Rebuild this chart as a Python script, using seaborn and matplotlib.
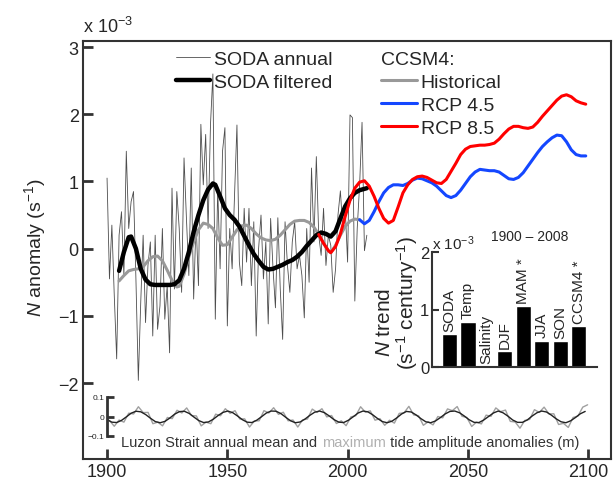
import numpy as np
import pandas as pd
import matplotlib
matplotlib.use('Agg')
import matplotlib.pyplot as plt
import seaborn as sns

# ---- SODA (units of 1e-3 s^-1) ----
soda_years = list(range(1900, 2009))
soda_annual = [
    1.05, -0.45, 0.35, -0.70, -1.64, 0.20, 0.55, -0.40, 1.45, 0.30,
    0.70, 0.85, -0.45, -1.96, -0.80, 0.20, -1.10, -0.25, 0.10, -1.30,
    0.20, -1.20, -0.85, 0.30, -1.05, -0.55, -1.55, 0.90, -0.60, 0.85,
    0.30, -0.65, 1.35, 0.45, -0.40, 1.20, -0.75, 0.40, -0.55, 1.85,
    0.95, 1.70, 0.30, 1.85, 2.60, -1.05, 0.90, -0.30, 1.45, 1.80,
    -1.15, 0.30, -0.30, 0.80, 1.84, -0.20, -0.55, 0.60, -0.20, 0.60,
    -0.55, 0.40, -1.30, 0.00, 0.50, -0.45, 0.10, -1.12, 0.45, -0.30,
    -0.88, 0.46, -0.60, -1.35, 0.40, -0.25, -0.65, 0.10, 0.40, -0.30,
    -0.10, -0.40, -1.03, 0.30, -0.50, 1.20, 0.10, 1.37, 0.20, -0.10,
    0.60, -0.25, 0.20, 0.05, -0.65, -0.30, 0.50, 0.86, 0.30, 0.60,
    -0.20, 1.99, 1.95, -0.78, 0.30, 0.95, 1.88, -0.03, 0.20,
]

filt_years = [1905, 1907, 1909, 1910, 1912, 1914, 1916, 1918, 1920, 1922,
              1924, 1926, 1928, 1930, 1932, 1934, 1936, 1938, 1940, 1942,
              1944, 1945, 1947, 1949, 1951, 1953, 1955, 1957, 1959, 1961,
              1963, 1965, 1967, 1969, 1971, 1973, 1975, 1977, 1979, 1981,
              1983, 1985, 1987, 1989, 1991, 1993, 1995, 1997, 1999, 2001,
              2003, 2005, 2008]
filt_vals = [-0.33, -0.05, 0.17, 0.18, 0.00, -0.30, -0.46, -0.53, -0.54, -0.54,
             -0.54, -0.54, -0.53, -0.47, -0.30, -0.05, 0.25, 0.50, 0.72, 0.88,
             0.97, 0.95, 0.78, 0.60, 0.50, 0.43, 0.33, 0.19, 0.05, -0.08,
             -0.18, -0.27, -0.31, -0.30, -0.27, -0.24, -0.20, -0.17, -0.12, -0.05,
             0.04, 0.12, 0.20, 0.24, 0.22, 0.18, 0.26, 0.45, 0.63, 0.75,
             0.83, 0.87, 0.90]

# ---- CCSM4 ----
hist_years = [1905, 1907, 1909, 1911, 1913, 1915, 1917, 1919, 1921, 1923,
              1925, 1927, 1929, 1930, 1932, 1934, 1936, 1938, 1940, 1942,
              1944, 1946, 1948, 1950, 1952, 1954, 1956, 1958, 1960, 1962,
              1964, 1966, 1968, 1970, 1972, 1974, 1976, 1978, 1980, 1982,
              1984, 1986, 1988, 1990, 1992, 1993, 1995, 1997, 1999, 2001,
              2003, 2005]
hist_vals = [-0.48, -0.40, -0.33, -0.31, -0.30, -0.27, -0.18, -0.12, -0.11, -0.18,
             -0.32, -0.47, -0.57, -0.56, -0.38, -0.12, 0.10, 0.28, 0.38, 0.36,
             0.30, 0.16, 0.05, 0.06, 0.17, 0.28, 0.34, 0.35, 0.30, 0.22,
             0.16, 0.13, 0.12, 0.14, 0.20, 0.28, 0.36, 0.41, 0.42, 0.42,
             0.39, 0.32, 0.21, 0.08, -0.03, -0.06, 0.05, 0.20, 0.33, 0.41,
             0.44, 0.43]

rcp45_years = [2005, 2007, 2009, 2011, 2013, 2015, 2017, 2019, 2021, 2023,
               2025, 2027, 2029, 2031, 2033, 2035, 2037, 2039, 2041, 2043,
               2045, 2047, 2049, 2051, 2053, 2055, 2057, 2059, 2061, 2063,
               2065, 2067, 2069, 2071, 2073, 2075, 2077, 2079, 2081, 2083,
               2085, 2087, 2089, 2091, 2093, 2095, 2097, 2099]
rcp45_vals = [0.43, 0.37, 0.42, 0.55, 0.70, 0.83, 0.91, 0.95, 0.95, 0.94,
              0.97, 1.02, 1.05, 1.04, 1.01, 0.98, 0.93, 0.86, 0.79, 0.76,
              0.79, 0.87, 0.97, 1.07, 1.14, 1.18, 1.17, 1.16, 1.16, 1.14,
              1.09, 1.04, 1.03, 1.06, 1.13, 1.23, 1.33, 1.43, 1.52, 1.59,
              1.65, 1.69, 1.68, 1.59, 1.47, 1.40, 1.38, 1.38]

rcp85_years = [1988, 1990, 1992, 1993, 1995, 1997, 1999, 2001, 2003, 2005,
               2007, 2009, 2011, 2013, 2015, 2017, 2019, 2021, 2023, 2025,
               2027, 2029, 2031, 2033, 2035, 2037, 2039, 2041, 2043, 2045,
               2047, 2049, 2051, 2053, 2055, 2057, 2059, 2061, 2063, 2065,
               2067, 2069, 2071, 2073, 2075, 2077, 2079, 2081, 2083, 2085,
               2087, 2089, 2091, 2093, 2095, 2097, 2099]
rcp85_vals = [0.21, 0.08, -0.03, -0.06, 0.03, 0.22, 0.48, 0.72, 0.90, 0.99,
              1.01, 0.93, 0.78, 0.60, 0.45, 0.38, 0.42, 0.62, 0.83, 0.95,
              1.03, 1.07, 1.08, 1.06, 1.02, 0.98, 0.97, 1.03, 1.15, 1.27,
              1.40, 1.48, 1.52, 1.53, 1.54, 1.54, 1.55, 1.57, 1.63, 1.71,
              1.78, 1.82, 1.82, 1.80, 1.79, 1.81, 1.88, 1.97, 2.05, 2.13,
              2.21, 2.27, 2.29, 2.26, 2.20, 2.17, 2.15]

# ---- Luzon Strait tide amplitude anomalies (m) ----
tide_mean_years = list(range(1900, 2100, 2))
tide_mean = [
    -0.016, -0.029, -0.031, -0.020, -0.002, 0.017, 0.027, 0.024, 0.010, -0.009,
    -0.026, -0.032, -0.025, -0.008, 0.012, 0.025, 0.027, 0.016, -0.003, -0.021,
    -0.031, -0.028, -0.014, 0.005, 0.021, 0.028, 0.020, 0.003, -0.016, -0.029,
    -0.031, -0.019, -0.001, 0.018, 0.028, 0.027, 0.015, -0.004, -0.022, -0.032,
    -0.028, -0.013, 0.006, 0.022, 0.028, 0.020, 0.003, -0.016, -0.029, -0.031,
    -0.019, -0.001, 0.018, 0.028, 0.024, 0.009, -0.010, -0.026, -0.032, -0.024,
    -0.007, 0.013, 0.026, 0.023, 0.008, -0.011, -0.027, -0.032, -0.023, -0.006,
    0.013, 0.026, 0.028, 0.019, 0.002, -0.017, -0.030, -0.031, -0.018, 0.000,
    0.018, 0.028, 0.019, 0.002, -0.018, -0.030, -0.030, -0.018, 0.002, 0.019,
    0.028, 0.023, 0.007, -0.012, -0.027, -0.032, -0.022, -0.005, 0.014, 0.026,
]
tide_max_years = list(range(1901, 2101, 2))
tide_max = [
    -0.020, -0.050, -0.018, -0.029, 0.017, 0.013, 0.050, 0.020, 0.021, -0.037,
    -0.029, -0.048, -0.005, -0.011, 0.032, 0.018, 0.044, 0.005, 0.003, -0.048,
    -0.029, -0.037, 0.012, 0.004, 0.040, 0.016, 0.030, -0.013, -0.012, -0.054,
    -0.023, -0.022, 0.030, 0.018, 0.045, 0.011, 0.022, -0.022, -0.018, -0.054,
    -0.017, -0.013, 0.038, 0.021, 0.040, -0.002, 0.005, -0.036, -0.022, -0.047,
    -0.002, 0.004, 0.050, 0.022, 0.029, -0.019, -0.011, -0.045, -0.019, -0.034,
    0.016, 0.019, 0.052, 0.008, 0.004, -0.045, -0.027, -0.043, 0.000, -0.007,
    0.039, 0.030, 0.051, 0.001, -0.005, -0.051, -0.029, -0.038, 0.007, 0.001,
    0.044, 0.025, 0.033, -0.025, -0.028, -0.060, -0.020, -0.015, 0.035, 0.021,
    0.048, 0.013, 0.014, -0.041, -0.035, -0.056, -0.005, 0.002, 0.048, 0.060,
]

# ---- inset: N trend 1900-2008 (units of 1e-3 s^-1 century^-1) ----
trend_labels = ['SODA', 'Temp', 'Salinity', 'DJF', 'MAM *', 'JJA', 'SON', 'CCSM4 *']
trend_vals = [0.57, 0.79, 0.015, 0.27, 1.06, 0.46, 0.45, 0.71]

sns.set_style('ticks')
plt.rcParams['font.family'] = ['Liberation Sans', 'DejaVu Sans']
plt.rcParams['mathtext.fontset'] = 'custom'
plt.rcParams['mathtext.rm'] = 'Liberation Sans'
plt.rcParams['mathtext.it'] = 'Liberation Sans:italic'
spine_col = '#333333'

W, H = 613, 489
fig = plt.figure(figsize=(W / 100, H / 100), dpi=100)

def fig_rect(x0, y0, x1, y1):
    # pixel box (top-left origin) -> figure fraction
    return [x0 / W, (H - y1) / H, (x1 - x0) / W, (y1 - y0) / H]

ax = fig.add_axes(fig_rect(83, 42, 611, 460))

sns.lineplot(x=soda_years, y=soda_annual, ax=ax, color='#4d4d4d', lw=0.6)
l_annual = ax.lines[-1]
sns.lineplot(x=hist_years, y=hist_vals, ax=ax, color='#999999', lw=2.2)
l_hist = ax.lines[-1]
sns.lineplot(x=filt_years, y=filt_vals, ax=ax, color='black', lw=3.2)
l_filt = ax.lines[-1]
sns.lineplot(x=rcp45_years, y=rcp45_vals, ax=ax, color='#1447ff', lw=2.2)
l_45 = ax.lines[-1]
sns.lineplot(x=rcp85_years, y=rcp85_vals, ax=ax, color='#ff0000', lw=2.2)
l_85 = ax.lines[-1]

ax.set_xlim(1890, 2109.5)
ax.set_ylim(-3.13, 3.09)
ax.set_xticks([1900, 1950, 2000, 2050, 2100])
ax.set_yticks([-2, -1, 0, 1, 2, 3])
ax.tick_params(direction='in', length=7, width=2, labelsize=13, pad=3,
               color=spine_col, top=False, right=False)
for s in ax.spines.values():
    s.set_color(spine_col)
    s.set_linewidth(1.5)
ax.set_ylabel(r'$\it{N}$ anomaly (s$^{-1}$)', fontsize=14)
ax.yaxis.set_label_coords(-0.066, 0.507)
ax.text(0.0, 1.012, r'x 10$^{-3}$', transform=ax.transAxes, fontsize=13,
        ha='left', va='bottom')

leg1 = ax.legend([l_annual, l_filt], ['SODA annual', 'SODA filtered'],
                 loc='upper left', bbox_to_anchor=(0.176, 0.978), frameon=False,
                 fontsize=14, handlelength=1.75, handletextpad=0.2,
                 labelspacing=0.3, borderpad=0, borderaxespad=0)
ax.add_artist(leg1)
ax.legend([l_hist, l_45, l_85], ['Historical', 'RCP 4.5', 'RCP 8.5'],
          title='CCSM4:', title_fontsize=14, alignment='left',
          loc='upper left', bbox_to_anchor=(0.564, 0.976), frameon=False,
          fontsize=14, handlelength=1.85, handletextpad=0.2,
          labelspacing=0.28, borderpad=0, borderaxespad=0)

# tide anomalies strip
axt = fig.add_axes(fig_rect(107, 398, 590, 437))
axt.patch.set_alpha(0)
sns.lineplot(x=tide_max_years, y=tide_max, ax=axt, color='#a0a0a0', lw=1.0)
sns.lineplot(x=tide_mean_years, y=tide_mean, ax=axt, color='#222222', lw=1.0)
axt.set_xlim(1900, 2100)
axt.set_ylim(-0.1, 0.1)
axt.set_xticks([])
axt.set_yticks([-0.1, 0, 0.1])
axt.set_yticklabels(['\u22120.1', '0', '0.1'])
axt.tick_params(axis='y', direction='in', length=5, width=2, labelsize=6,
                pad=2, color=spine_col)
for k in ['top', 'right', 'bottom']:
    axt.spines[k].set_visible(False)
axt.spines['left'].set_color(spine_col)
axt.spines['left'].set_linewidth(2)
t1 = ax.text(1906, -2.87, 'Luzon Strait annual mean and ', fontsize=10.5,
             color='#333333', ha='left', va='center')
t2 = ax.annotate('maximum', xy=(1, 0), xycoords=t1, fontsize=10.5,
                 color='#b0b0b0', ha='left', va='bottom')
ax.annotate(' tide amplitude anomalies (m)', xy=(1, 0), xycoords=t2,
            fontsize=10.5, color='#333333', ha='left', va='bottom')

# inset bar chart
axb = fig.add_axes(fig_rect(432, 253, 597, 368))
trend_df = pd.DataFrame({'label': trend_labels, 'trend': trend_vals})
sns.barplot(data=trend_df, x='label', y='trend', color='black', width=0.82,
            saturation=1, ax=axb)
axb.set_xlim(-0.95, 8.0)
axb.set_ylim(0, 2)
axb.set_yticks([0, 1, 2])
axb.set_xticks([])
axb.set_xlabel('')
axb.set_ylabel('')
axb.text(-0.285, 0.40, r'$\it{N}$ trend', transform=axb.transAxes,
         rotation=90, fontsize=15, ha='center', va='center')
axb.text(-0.15, 0.565, r'(s$^{-1}$ century$^{-1}$)', transform=axb.transAxes,
         rotation=90, fontsize=15, ha='center', va='center')
axb.tick_params(axis='y', direction='in', length=5, width=1.5, labelsize=12,
                pad=2, color=spine_col)
for k in ['top', 'right']:
    axb.spines[k].set_visible(False)
for k in ['left', 'bottom']:
    axb.spines[k].set_color(spine_col)
    axb.spines[k].set_linewidth(1.5)
for i, (lab, v) in enumerate(zip(trend_labels, trend_vals)):
    axb.text(i, v + 0.06, lab, rotation=90, ha='center', va='bottom',
             fontsize=11)
axb.text(0.0, 1.0, r'x 10$^{-3}$', transform=axb.transAxes, fontsize=11,
         ha='left', va='bottom')
axb.text(0.594, 1.14, '1900 \u2013 2008', transform=axb.transAxes,
         fontsize=10, ha='center', va='center')

fig.savefig('out.png', dpi=100)
